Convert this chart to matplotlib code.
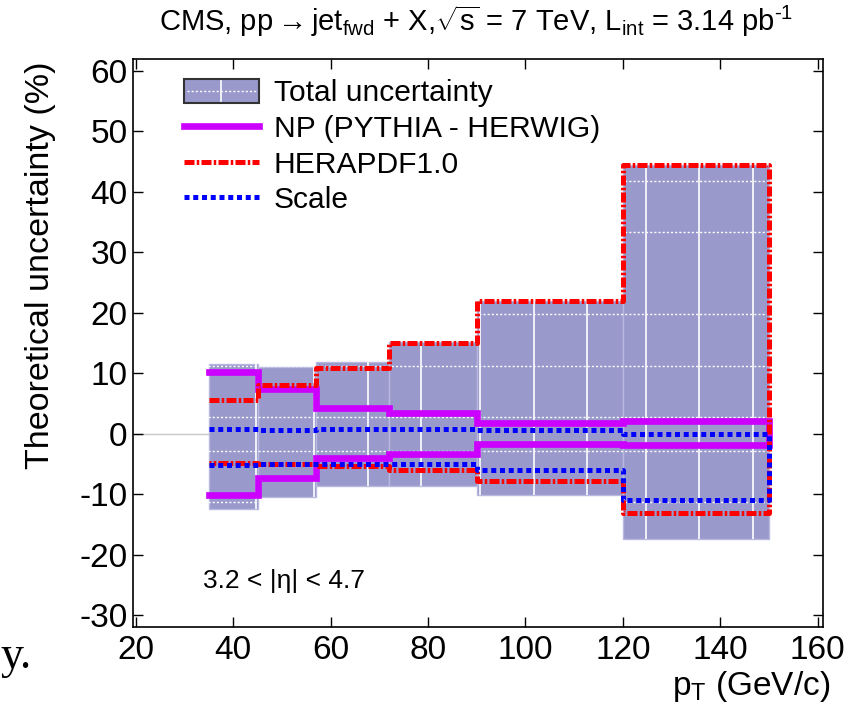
import numpy as np
import matplotlib
matplotlib.use('Agg')
import matplotlib.pyplot as plt
from matplotlib.path import Path
from matplotlib.patches import Rectangle, Patch
from matplotlib.lines import Line2D
from matplotlib.legend_handler import HandlerBase

plt.rcParams['font.family'] = ['Liberation Sans', 'DejaVu Sans']
plt.rcParams['mathtext.fontset'] = 'custom'
plt.rcParams['mathtext.rm'] = 'Liberation Sans'
plt.rcParams['mathtext.it'] = 'Liberation Sans:italic'
plt.rcParams['mathtext.sf'] = 'Liberation Sans'
plt.rcParams['axes.unicode_minus'] = False

# ---------------- data ----------------
bin_edges = [35, 45, 57, 72, 90, 120, 150]
total_up = [11.5, 11.0, 11.9, 15.1, 21.9, 44.4]
total_dn = [-12.5, -10.5, -8.7, -8.6, -10.2, -17.4]
np_up = [10.2, 7.4, 4.2, 3.4, 1.8, 2.1]
np_dn = [-10.2, -7.4, -4.1, -3.3, -1.8, -1.9]
pdf_up = [5.6, 8.0, 10.9, 15.0, 21.9, 44.4]
pdf_dn = [-4.8, -5.0, -5.3, -6.1, -7.9, -13.1]
scale_up = [0.8, 0.6, 0.7, 0.7, 0.6, 0.0]
scale_dn = [-5.2, -5.0, -5.1, -5.1, -6.1, -11.0]

legend_labels = ['Total uncertainty', 'NP (PYTHIA - HERWIG)', 'HERAPDF1.0', 'Scale']
x_ticks = [20, 40, 60, 80, 100, 120, 140, 160]
y_ticks = [-30, -20, -10, 0, 10, 20, 30, 40, 50, 60]

# decorative grid inside the band (as seen in reference)
band_vgrid = [44.7, 56.6, 67.7, 78.6, 90.7, 101.8, 112.6, 124.8, 135.7, 146.8]
band_hgrid = [-11.3, -2.9, 2.8, 11.1, 19.7, 33.4, 41.8]

BAND = '#9999cc'
MAGENTA = '#cc00ff'

fig = plt.figure(figsize=(8.52, 7.17), dpi=100)
ax = fig.add_axes([133.3 / 852, 1 - 626.7 / 717, (823 - 133.3) / 852, (626.7 - 59) / 717])

xlim = (19.5, 161.1)
ylim = (-31.93, 61.93)

edges = np.array(bin_edges, dtype=float)
lefts = edges[:-1]
widths = np.diff(edges)
up = np.array(total_up)
dn = np.array(total_dn)

# zero line (left part)
ax.hlines(0, xlim[0], edges[0], colors='#c8c8c8', lw=1.0, zorder=1)

bars = ax.bar(lefts, up - dn, width=widths, bottom=dn, align='edge',
              color=BAND, edgecolor='#b8b8e0', linewidth=1.0, zorder=2)

clip = Path.make_compound_path(*[b.get_path().transformed(b.get_patch_transform()) for b in bars])
vl = ax.vlines(band_vgrid, ylim[0], ylim[1], colors='white', lw=1.2, zorder=3)
vl.set_clip_path(clip, ax.transData)
hl = ax.hlines(band_hgrid, xlim[0], xlim[1], colors='white', lw=1.0,
               linestyles=[(0, (1.5, 1.5))], zorder=3)
hl.set_clip_path(clip, ax.transData)


def outline(u, d):
    xs = np.repeat(edges, 2)[1:-1]
    x = np.concatenate([xs, xs[::-1]])
    y = np.concatenate([np.repeat(u, 2), np.repeat(d, 2)[::-1]])
    return x, y


x, y = outline(np_up, np_dn)
ax.plot(x, y, color=MAGENTA, lw=4.8, solid_joinstyle='miter', zorder=4)
x, y = outline(pdf_up, pdf_dn)
ax.plot(x, y, color='red', lw=3.6, dashes=(2.0, 0.45, 0.5, 0.45), dash_capstyle='butt', zorder=5)
x, y = outline(scale_up, scale_dn)
ax.plot(x, y, color='blue', lw=3.6, dashes=(1.0, 0.75), dash_capstyle='butt', zorder=6)

ax.set_xlim(*xlim)
ax.set_ylim(*ylim)
ax.set_xticks(x_ticks)
ax.set_yticks(y_ticks)
ax.tick_params(direction='in', length=7, width=1, top=True, right=True, labelsize=24)
ax.tick_params(axis='x', pad=6)
ax.tick_params(axis='y', pad=4)
for s in ax.spines.values():
    s.set_linewidth(1.2)

ax.set_ylabel('Theoretical uncertainty (%)', fontsize=24.5, loc='top')
ax.yaxis.set_label_coords(-0.112, 0.995)
ax.set_xlabel(r'p$_{\rm T}$ (GeV/c)', fontsize=24, loc='right')
ax.xaxis.set_label_coords(1.0101, -0.075)

ax.text(33.8, -25.5, '3.2 < |η| < 4.7', fontsize=19)

fig.text(476 / 852, 1 - 31 / 717,
         r'CMS, pp$\rightarrow$jet$_{\rm fwd}$ + X,$\sqrt{\rm s}$ = 7 TeV, L$_{\rm int}$ = 3.14 pb$^{\text{-1}}$',
         ha='center', va='baseline', fontsize=21)

fig.text(0.001, 1 - 668 / 717, 'y.', family='Liberation Serif', fontsize=33, va='baseline')


class BandHandler(HandlerBase):
    def create_artists(self, legend, orig_handle, xdescent, ydescent, width, height, fontsize, trans):
        x0, y0 = -xdescent, -ydescent
        r = Rectangle((x0, y0), width, height, facecolor=BAND, edgecolor='#333333', lw=1.5, transform=trans)
        l1 = Line2D([x0 + 2, x0 + width - 2], [y0 + height / 2] * 2, color='white', lw=1.0,
                    ls=(0, (1.5, 1.5)), transform=trans)
        l2 = Line2D([x0 + width / 2] * 2, [y0 + 1, y0 + height - 1], color='white', lw=1.2, transform=trans)
        return [r, l1, l2]


band_handle = Patch(facecolor=BAND, edgecolor='#333333')
handles = [band_handle,
           Line2D([], [], color=MAGENTA, lw=4.8),
           Line2D([], [], color='red', lw=3.6, dashes=(2.0, 0.45, 0.5, 0.45), dash_capstyle='butt'),
           Line2D([], [], color='blue', lw=3.6, dashes=(1.0, 0.75), dash_capstyle='butt')]
ax.legend(handles, legend_labels, handler_map={band_handle: BandHandler()},
          loc='upper left', bbox_to_anchor=(0.0735, 0.9645), borderaxespad=0, borderpad=0,
          frameon=False, fontsize=21.6, handlelength=2.5, handleheight=0.83,
          handletextpad=0.5, labelspacing=0.25)

fig.savefig('out.png', dpi=100)
